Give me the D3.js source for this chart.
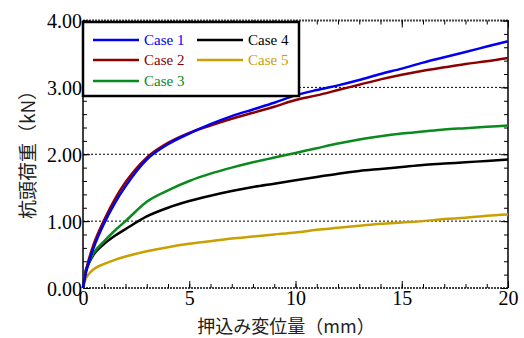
<!DOCTYPE html>
<html><head><meta charset="utf-8">
<script src="https://cdn.jsdelivr.net/npm/d3@7"></script>
<style>body{margin:0;background:#fff}svg{display:block}</style>
</head><body>
<svg id="c" width="524" height="338"></svg>
<script>
const xs     = [0, 0.1, 0.25, 0.5, 1, 1.5, 2, 3, 4, 5, 6, 7, 8, 9, 10, 11, 12, 13, 14, 15, 16, 17, 18, 19, 20];
const case1  = [0, 0.17, 0.36, 0.6, 0.97, 1.27, 1.52, 1.92, 2.15, 2.31, 2.45, 2.57, 2.67, 2.77, 2.88, 2.96, 3.03, 3.11, 3.20, 3.28, 3.37, 3.45, 3.53, 3.61, 3.69];
const case2  = [0, 0.2, 0.4, 0.65, 1.02, 1.33, 1.58, 1.95, 2.17, 2.32, 2.43, 2.53, 2.62, 2.71, 2.81, 2.88, 2.96, 3.04, 3.12, 3.19, 3.25, 3.30, 3.35, 3.39, 3.44];
const case3  = [0, 0.22, 0.36, 0.52, 0.70, 0.86, 1.00, 1.29, 1.46, 1.60, 1.71, 1.80, 1.88, 1.95, 2.02, 2.09, 2.16, 2.22, 2.27, 2.31, 2.34, 2.37, 2.39, 2.41, 2.43];
const case4  = [0, 0.22, 0.35, 0.5, 0.66, 0.78, 0.88, 1.07, 1.20, 1.30, 1.38, 1.45, 1.51, 1.56, 1.61, 1.66, 1.71, 1.75, 1.78, 1.81, 1.84, 1.86, 1.88, 1.90, 1.92];
const case5  = [0, 0.12, 0.2, 0.28, 0.36, 0.42, 0.47, 0.55, 0.61, 0.66, 0.70, 0.74, 0.77, 0.80, 0.83, 0.87, 0.90, 0.93, 0.96, 0.98, 1.00, 1.03, 1.05, 1.08, 1.10];
const seriesNames = ["Case 1", "Case 2", "Case 3", "Case 4", "Case 5"];
const colors = ["#0000ee", "#8b0000", "#0a8a1e", "#000000", "#c9a000"];
const xTicks = [0, 5, 10, 15, 20];
const yTicks = [0, 1, 2, 3, 4];
const xLabel = "押込み変位量（mm）";
const yLabel = "杭頭荷重（kN）";

const svg = d3.select("#c");
const L = 83, R = 508, T = 20.5, B = 288;
const x = d3.scaleLinear().domain([0, 20]).range([L, R]);
const y = d3.scaleLinear().domain([0, 4]).range([B, T]);

// grid lines
svg.append("g").selectAll("line").data([1, 2, 3]).join("line")
  .attr("x1", L).attr("x2", R).attr("y1", d => y(d)).attr("y2", d => y(d))
  .attr("stroke", "#000").attr("stroke-width", 1).attr("stroke-dasharray", "2,2");

// top / bottom borders (dotted look)
[0, 4].forEach(v => {
  svg.append("line").attr("x1", L).attr("x2", R).attr("y1", y(v)).attr("y2", y(v))
    .attr("stroke", "#444").attr("stroke-width", 2).attr("stroke-dasharray", "2,1");
});

// axes ticks
const fontSerif = "'Liberation Serif','Times New Roman',serif";
const xMinor = d3.range(0, 21, 1);
const yMinor = d3.range(0, 4.01, 0.2);
svg.append("g").attr("transform", `translate(0,${B})`)
  .call(d3.axisBottom(x).tickValues(xMinor).tickSize(-4).tickFormat(""));
svg.append("g").attr("class", "xlab").attr("transform", `translate(0,${B})`)
  .call(d3.axisBottom(x).tickValues(xTicks).tickSize(-7).tickPadding(3).tickFormat(d3.format("d")));
svg.append("g").attr("transform", `translate(0,${T})`)
  .call(d3.axisTop(x).tickValues(xMinor).tickSize(-4).tickFormat(""));
svg.append("g").attr("transform", `translate(0,${T})`)
  .call(d3.axisTop(x).tickValues(xTicks).tickSize(-7).tickFormat(""));
svg.append("g").attr("transform", `translate(${L},0)`)
  .call(d3.axisLeft(y).tickValues(yMinor).tickSize(-4).tickFormat(""));
const axL2 = svg.append("g").attr("transform", `translate(${L},0)`)
  .call(d3.axisLeft(y).tickValues(yTicks).tickSize(-7).tickPadding(1).tickFormat(d3.format(".2f")));
svg.append("g").attr("transform", `translate(${R},0)`)
  .call(d3.axisRight(y).tickValues(yMinor).tickSize(-4).tickFormat(""));
svg.append("g").attr("transform", `translate(${R},0)`)
  .call(d3.axisRight(y).tickValues(yTicks).tickSize(-7).tickFormat(""));
svg.selectAll(".domain").remove();
svg.selectAll(".tick line").attr("stroke", "#000").attr("stroke-width", 1);
svg.selectAll(".tick text").attr("fill", "#000").attr("font-family", fontSerif).attr("font-size", 20);
axL2.selectAll(".tick text").attr("dy", "0.35em");

// left/right solid borders
svg.append("line").attr("x1", L).attr("x2", L).attr("y1", T).attr("y2", B).attr("stroke", "#000").attr("stroke-width", 1.5);
svg.append("line").attr("x1", R).attr("x2", R).attr("y1", T).attr("y2", B).attr("stroke", "#000").attr("stroke-width", 1.5);

// series
const data = [case1, case2, case3, case4, case5];
const line = d3.line().x((d, i) => x(xs[i])).y(d => y(d)).curve(d3.curveMonotoneX);
const order = [4, 3, 2, 1, 0];
order.forEach(k => {
  svg.append("path").datum(data[k]).attr("d", line).attr("fill", "none")
    .attr("stroke", colors[k]).attr("stroke-width", 2.5).attr("stroke-linejoin", "round");
});

// legend
const lg = svg.append("g");
lg.append("rect").attr("x", 83).attr("y", 22).attr("width", 216).attr("height", 74)
  .attr("fill", "#fff").attr("stroke", "#000").attr("stroke-width", 2.5);
const pos = [[93, 40], [93, 60], [93, 81], [197, 40], [197, 60]];
seriesNames.forEach((n, i) => {
  const [lx, ly] = pos[i];
  lg.append("line").attr("x1", lx).attr("x2", lx + 46).attr("y1", ly).attr("y2", ly)
    .attr("stroke", colors[i]).attr("stroke-width", 2.5);
  lg.append("text").attr("x", lx + 51).attr("y", ly).attr("dy", "0.33em")
    .attr("font-family", fontSerif).attr("font-size", 15).attr("fill", colors[i]).text(n);
});

// axis titles
svg.append("text").attr("x", 286).attr("y", 333).attr("text-anchor", "middle")
  .attr("font-family", "'Noto Sans CJK JP'").attr("font-size", 18).attr("fill", "#222").text(xLabel);
svg.append("text").attr("transform", "translate(26,150) rotate(-90)").attr("text-anchor", "middle")
  .attr("dominant-baseline", "central")
  .attr("font-family", "'Noto Sans CJK JP'").attr("font-size", 19).attr("fill", "#222").text(yLabel);
</script>
</body></html>
